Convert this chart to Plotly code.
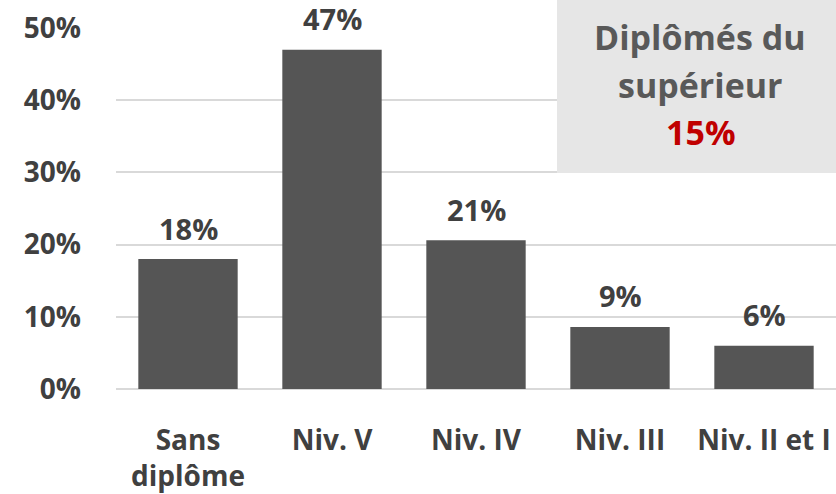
import plotly.graph_objects as go

categories = ["Sans<br>diplôme", "Niv. V", "Niv. IV", "Niv. III", "Niv. II et I"]
values = [18.0, 47.0, 20.6, 8.6, 6.0]
labels = ["18%", "47%", "21%", "9%", "6%"]
tick_vals = [0, 10, 20, 30, 40, 50]
tick_text = ["0%", "10%", "20%", "30%", "40%", "50%"]
box_lines = ["Diplômés du", "supérieur"]
box_value = "15%"

FONT = "Open Sans"
TXT = "#404040"
L, T, B, W, H = 116, 28, 105, 836, 494
PW, PH = W - L, H - T - B

def px(x):
    return (x - L) / PW

def py(y):
    return (H - B - y) / PH

fig = go.Figure()
fig.add_trace(go.Bar(
    x=categories, y=values,
    marker=dict(color="#555555", line=dict(width=0)),
    width=0.69,
    hoverinfo="skip",
))

for c, v, t in zip(categories, values, labels):
    fig.add_annotation(x=c, y=v, text=t, showarrow=False, yanchor="middle", xanchor="center",
                       yshift=31, font=dict(family=FONT, size=29, color=TXT, weight="bold"))

fig.add_shape(type="rect", xref="paper", yref="paper", x0=px(557), x1=1.0,
              y0=py(173), y1=py(0), fillcolor="#e6e6e6", line=dict(width=0), layer="above")
for txt, yc in zip(box_lines, [37, 85]):
    fig.add_annotation(xref="paper", yref="paper", x=px(700), y=py(yc),
                       text=txt, showarrow=False, yanchor="middle", xanchor="center",
                       font=dict(family=FONT, size=34, color="#595959", weight="bold"))
fig.add_annotation(xref="paper", yref="paper", x=px(701), y=py(132),
                   text=box_value, showarrow=False, yanchor="middle", xanchor="center",
                   font=dict(family=FONT, size=34, color="#c00000", weight="bold"))

fig.update_layout(
    width=W, height=H,
    margin=dict(l=L, r=0, t=T, b=B),
    paper_bgcolor="white", plot_bgcolor="white",
    showlegend=False,
    font=dict(family=FONT, size=28, color=TXT),
)
fig.update_xaxes(showgrid=False, showline=False, ticks="", ticklabelstandoff=32, automargin=False,
                 tickfont=dict(family=FONT, size=28, color=TXT, weight="bold"))
fig.update_yaxes(range=[0, 50], tickvals=tick_vals, ticktext=tick_text, automargin=False,
                 showgrid=True, gridcolor="#d9d9d9", gridwidth=1.5, zeroline=True,
                 zerolinecolor="#d9d9d9", zerolinewidth=1.5, showline=False, ticks="",
                 ticklabelstandoff=34,
                 tickfont=dict(family=FONT, size=28, color=TXT, weight="bold"))

fig.write_html("out.html", config={"displayModeBar": False},
               post_script="document.body.style.margin='0';document.body.style.overflow='hidden';")
